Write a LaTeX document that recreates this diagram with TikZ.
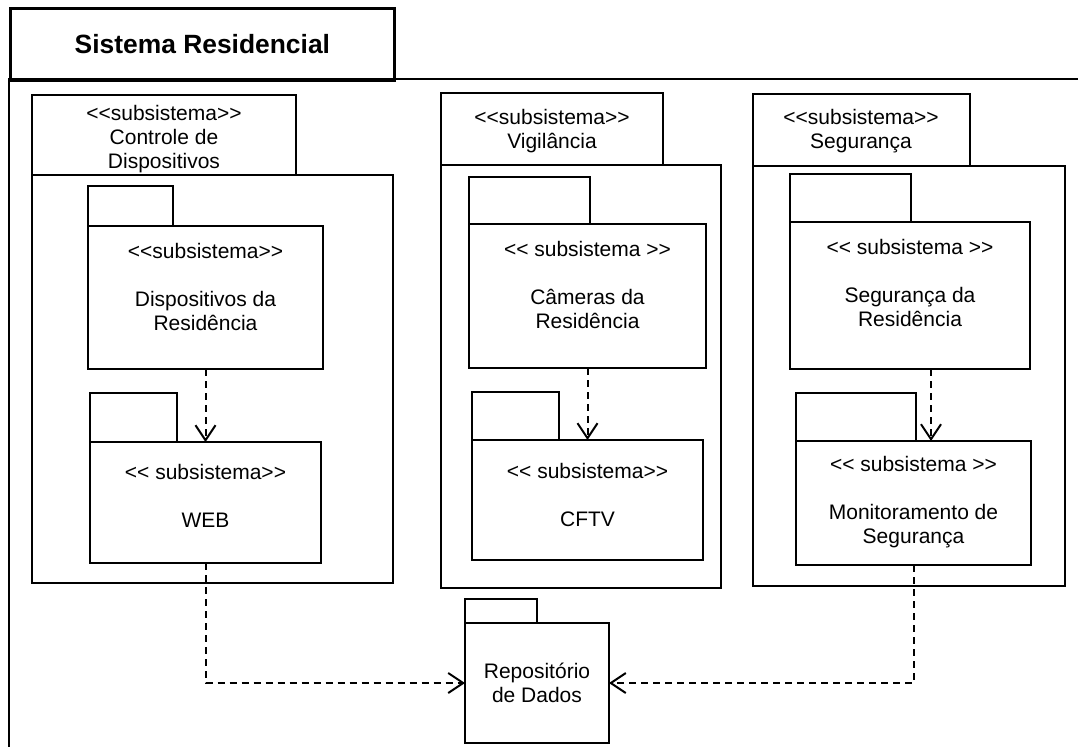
\documentclass[tikz,border=0pt]{standalone}
\usepackage{fontspec}
\newfontfamily\arial{Liberation Sans}
\usetikzlibrary{arrows.meta}
\begin{document}
\begin{tikzpicture}[x=1pt,y=-1pt,
  frameline/.style={line width=2.8pt},
  outerpkg/.style={draw, line width=2.6pt, anchor=north west, inner sep=0pt, outer sep=0pt},
  innerpkg/.style={draw, line width=2pt, anchor=north west, inner sep=0pt, outer sep=0pt},
  txt/.style={font=\arial\fontsize{21}{24}\selectfont, align=center, inner sep=0pt},
  titletxt/.style={font=\arial\bfseries\fontsize{26.4}{30}\selectfont, inner sep=0pt},
  dep/.style={line width=2pt, dash pattern=on 7pt off 5pt, -{Straight Barb[length=15pt,width=20pt]}},
]
\useasboundingbox (0,0) rectangle (1078,747);

% system frame with its title tab
\node[draw, frameline, anchor=north west, inner sep=0pt, minimum width=384pt, minimum height=72pt] (systab) at (9,7) {};
\node[titletxt] (systitle) at (systab.center) {Sistema Residencial};
\coordinate (frtl) at (9,79);
\coordinate (frtr) at (1078,79);
\coordinate (frbl) at (9,747);
\draw[frameline] (frtr) -- (frtl) -- (frbl);

% subsystem: Controle de Dispositivos
\node[outerpkg, minimum width=264pt, minimum height=80pt] (ctab) at (32,95) {};
\node[outerpkg, minimum width=361pt, minimum height=408pt] (cbody) at (32,175) {};
\node[txt] (ctxt) at (164,139) {<<subsistema>>\\Controle de\\Dispositivos};

\node[innerpkg, minimum width=85pt, minimum height=40pt] (disptab) at (88,186) {};
\node[innerpkg, minimum width=235pt, minimum height=143pt] (disp) at (88,226) {};
\node[txt] (disptxt) at (205.5,287) {<<subsistema>>\\[24pt]Dispositivos da\\Residência};

\node[innerpkg, minimum width=87pt, minimum height=49pt] (webtab) at (90,393) {};
\node[innerpkg, minimum width=231pt, minimum height=121pt] (web) at (90,442) {};
\node[txt] (webtxt) at (205.5,496) {<< subsistema>>\\[24pt]WEB};

% subsystem: Vigilância
\node[outerpkg, minimum width=222pt, minimum height=72pt] (vtab) at (441,93) {};
\node[outerpkg, minimum width=280pt, minimum height=423pt] (vbody) at (441,165) {};
\node[txt] (vtxt) at (552,131) {<<subsistema>>\\Vigilância};

\node[innerpkg, minimum width=121pt, minimum height=47pt] (camtab) at (469,177) {};
\node[innerpkg, minimum width=237pt, minimum height=144pt] (cam) at (469,224) {};
\node[txt] (camtxt) at (587.5,285) {<< subsistema >>\\[24pt]Câmeras da\\Residência};

\node[innerpkg, minimum width=87pt, minimum height=48pt] (cftvtab) at (472,392) {};
\node[innerpkg, minimum width=231pt, minimum height=120pt] (cftv) at (472,440) {};
\node[txt] (cftvtxt) at (587.5,495) {<< subsistema>>\\[24pt]CFTV};

% subsystem: Segurança
\node[outerpkg, minimum width=217pt, minimum height=72pt] (stab) at (753,94) {};
\node[outerpkg, minimum width=312pt, minimum height=420pt] (sbody) at (753,166) {};
\node[txt] (stxt) at (861,131) {<<subsistema>>\\Segurança};

\node[innerpkg, minimum width=121pt, minimum height=48pt] (segtab) at (790,174) {};
\node[innerpkg, minimum width=240pt, minimum height=147pt] (seg) at (790,222) {};
\node[txt] (segtxt) at (910,283) {<< subsistema >>\\[24pt]Segurança da\\Residência};

\node[innerpkg, minimum width=120pt, minimum height=48pt] (montab) at (796,393) {};
\node[innerpkg, minimum width=235pt, minimum height=124pt] (mon) at (796,441) {};
\node[txt] (montxt) at (913.5,502) {<< subsistema >>\\[24pt]Monitoramento de\\Segurança};

% shared data repository
\node[innerpkg, minimum width=72pt, minimum height=24pt] (repotab) at (465,599) {};
\node[innerpkg, minimum width=144pt, minimum height=120pt] (repo) at (465,623) {};
\node[txt] (repotxt) at (repo.center) {Repositório\\de Dados};

% dependencies
\draw[dep] (disp.south) -- (web.north);
\draw[dep] (cam.south) -- (cftv.north);
\draw[dep] ([xshift=21pt]seg.south) -- ([xshift=17.5pt]mon.north);
\draw[dep] (web.south) |- (repo.west);
\draw[dep] (mon.south) |- (repo.east);
\end{tikzpicture}
\end{document}
